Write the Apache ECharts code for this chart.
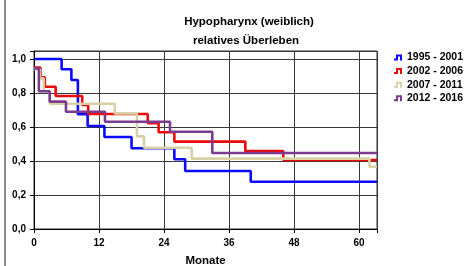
<!DOCTYPE html>
<html><head><meta charset="utf-8">
<script src="https://cdn.jsdelivr.net/npm/echarts@6/dist/echarts.min.js"></script>
<style>html,body{margin:0;padding:0;background:#fff}#c{width:464px;height:266px}</style>
</head><body><div id="c"></div>
<script>
const titleText = 'Hypopharynx (weiblich)';
const subtitleText = 'relatives Überleben';
const xAxisName = 'Monate';
const seriesNames = ['1995 - 2001', '2002 - 2006', '2007 - 2011', '2012 - 2016'];
const xTicks = [0, 12, 24, 36, 48, 60];
const yTicks = [0, 0.2, 0.4, 0.6, 0.8, 1.0];

const months1995 = [0, 5.1, 6.9, 8.1, 9.9, 13.0, 18.0, 25.9, 27.9, 40.0, 63.3];
const surv1995   = [1.0, 0.94, 0.876, 0.675, 0.606, 0.541, 0.475, 0.41, 0.341, 0.278, 0.278];

const months2002 = [0, 1.2, 2.0, 4.0, 8.9, 10.0, 21.0, 23.0, 25.9, 39.0, 46.0, 63.3];
const surv2002   = [0.949, 0.892, 0.837, 0.782, 0.729, 0.676, 0.622, 0.569, 0.514, 0.458, 0.406, 0.406];

const months2007 = [0, 1.1, 1.8, 2.9, 14.9, 19.0, 20.3, 29.1, 61.9, 63.3];
const surv2007   = [0.94, 0.886, 0.81, 0.737, 0.68, 0.545, 0.478, 0.414, 0.366, 0.366];

const months2012 = [0, 0.9, 2.9, 5.9, 13.1, 25.1, 32.9, 63.3];
const surv2012   = [0.945, 0.81, 0.749, 0.69, 0.631, 0.572, 0.447, 0.447];

const colors = ['#0a0aff', '#ec0a0a', '#d9d1a6', '#7b3b8e'];
const allMonths = [months1995, months2002, months2007, months2012];
const allSurv = [surv1995, surv2002, surv2007, surv2012];

const stepIcon = 'path://M0,6 L0,4 L2,4 L2,0 L8,0 L8,6 L6,6 L6,2 L4,2 L4,6 Z';
const FONT = '"Liberation Sans", Arial, sans-serif';

const chart = echarts.init(document.getElementById('c'), null, {renderer: 'canvas'});
const series = seriesNames.map((n, i) => ({
  name: n,
  type: 'line',
  step: 'end',
  symbol: 'none',
  silent: true,
  animation: false,
  lineStyle: {color: colors[i], width: 2.6},
  itemStyle: {color: colors[i]},
  data: allMonths[i].map((m, k) => [m, allSurv[i][k]])
}));

chart.setOption({
  animation: false,
  backgroundColor: '#fff',
  graphic: [{type: 'rect', shape: {x: 4, y: 0, width: 2, height: 266}, style: {fill: '#8c8c8c'}}],
  title: [
    {text: titleText, left: 249, top: 16, padding: 0, textAlign: 'center',
     textStyle: {fontFamily: FONT, fontSize: 11.5, fontWeight: 'bold', color: '#000'}},
    {text: subtitleText, left: 246, top: 35, padding: 0, textAlign: 'center',
     textStyle: {fontFamily: FONT, fontSize: 11.5, fontWeight: 'bold', color: '#000'}}
  ],
  legend: {
    orient: 'vertical', left: 394, top: 52, padding: 0,
    itemWidth: 8, itemHeight: 7, itemGap: 2.6,
    icon: stepIcon,
    data: seriesNames,
    textStyle: {fontFamily: FONT, fontSize: 10.5, fontWeight: 'bold', color: '#000'}
  },
  grid: {left: 34, top: 51, right: 87, bottom: 37, show: true, borderColor: '#333', borderWidth: 1,
         outerBoundsMode: 'none', containLabel: false},
  xAxis: {
    type: 'value', min: 0, max: 63.3, interval: 12,
    name: xAxisName, nameLocation: 'middle', nameGap: 26,
    nameTextStyle: {fontFamily: FONT, fontSize: 11.5, fontWeight: 'bold', color: '#000'},
    axisLine: {lineStyle: {color: '#000', width: 1}},
    axisTick: {length: 4, lineStyle: {color: '#000'}},
    axisLabel: {fontFamily: FONT, fontSize: 10, fontWeight: 'bold', color: '#000', margin: 9,
      formatter: v => xTicks.some(t => Math.abs(t - v) < 1e-6) ? String(Math.round(v)) : ''},
    splitLine: {show: true, lineStyle: {color: '#3a3a3a', width: 1}}
  },
  yAxis: {
    type: 'value', min: 0, max: 1.047, interval: 0.2,
    axisLine: {show: true, lineStyle: {color: '#000', width: 1}},
    axisTick: {show: true, length: 4, lineStyle: {color: '#000'}},
    axisLabel: {fontFamily: FONT, fontSize: 10, fontWeight: 'bold', color: '#000', margin: 8,
      formatter: v => yTicks.some(t => Math.abs(t - v) < 1e-6) ? v.toFixed(1).replace('.', ',') : ''},
    splitLine: {show: true, lineStyle: {color: '#3a3a3a', width: 1}}
  },
  series: series
});
</script>
</body></html>
